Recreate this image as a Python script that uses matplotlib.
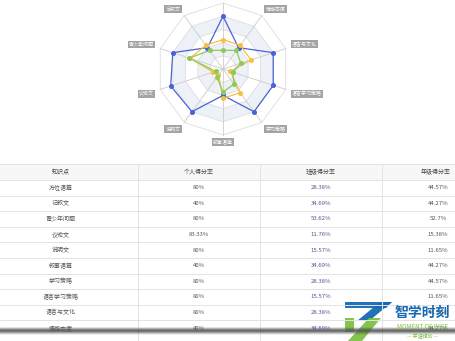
import numpy as np
import matplotlib
matplotlib.use('Agg')
import matplotlib.pyplot as plt
from matplotlib.patches import Polygon, Rectangle

plt.rcParams['font.family'] = ['Noto Sans CJK SC', 'DejaVu Sans']

# knowledge points, table rows = radar indicators (counter-clockwise from top)
names = ['方位语篇', '记叙文', '青少年问题', '议论文', '说明文',
         '叙事语篇', '学习策略', '语言学习策略', '语言与文化', '情感态度']
personal = [80, 40, 80, 83.33, 80, 40, 80, 80, 80, 40]
class_rate = [28.38, 34.69, 53.62, 11.76, 15.57, 34.69, 28.38, 15.57, 28.38, 34.69]
grade_rate = [44.57, 44.27, 52.7, 15.38, 11.65, 44.27, 44.57, 11.65, 44.57, 44.27]
headers = ['知识点', '个人得分率', '班级得分率', '年级得分率']

blue = '#4763d4'
yellow = '#f5c142'
green = '#8ccb5a'

W, H = 456, 341
fig = plt.figure(figsize=(W / 100, H / 100), dpi=100)

# ---------------- radar ----------------
cx, cy, R = 223, 69, 66
ax = fig.add_axes([(cx - 110) / W, (H - cy - 75) / H, 220 / W, 150 / H])
ax.set_xlim(-110 / R, 110 / R)
ax.set_ylim(-75 / R, 75 / R)
ax.axis('off')

n = len(names)
theta = np.pi / 2 + np.arange(n) * 2 * np.pi / n
cs, sn = np.cos(theta), np.sin(theta)

rings = [0.2, 0.4, 0.6, 0.8, 1.0]
for k in range(len(rings) - 1, -1, -1):
    r = rings[k]
    col = '#eef1f8' if k in (1, 3) else 'white'
    ax.add_patch(Polygon(np.c_[r * cs, r * sn], closed=True, facecolor=col,
                         edgecolor='#dddddd', lw=0.6, zorder=1))
for c, s in zip(cs, sn):
    ax.plot([0, c], [0, s], color='#cccccc', lw=0.6, zorder=2)

for vals, col in [(personal, blue), (grade_rate, yellow), (class_rate, green)]:
    v = np.array(vals) / 100.0
    xs = np.r_[v * cs, v[0] * cs[0]]
    ys = np.r_[v * sn, v[0] * sn[0]]
    ax.plot(xs, ys, color=col, lw=0.9, zorder=3)
    ax.plot(v * cs, v * sn, 'o', color=col, ms=2.6, zorder=4)

for name, c, s in zip(names, cs, sn):
    ha = 'left' if c > 0.05 else ('right' if c < -0.05 else 'center')
    va = 'bottom' if s > 0.05 else ('top' if s < -0.05 else 'center')
    if abs(c) < 0.05:
        gap = 1.35 if s > 0 else 1.07
    else:
        gap = 1.08
    ax.text(1.1 * c, gap * s, name, ha=ha, va=va, fontsize=3.6, color='white',
            bbox=dict(boxstyle='square,pad=0.25', fc='#a3a3a3', ec='none'),
            clip_on=False, zorder=5)

# ---------------- table ----------------
tb = fig.add_axes([0, 0, 1, 1])
tb.set_xlim(0, W)
tb.set_ylim(H, 0)
tb.axis('off')

col_edges = [-16, 138, 260, 382, 504]
col_centers = [(col_edges[i] + col_edges[i + 1]) / 2 for i in range(4)]
head_top, head_bot = 164, 180
row_h = 15.6

tb.add_patch(Rectangle((0, head_top), W, head_bot - head_top, fc='#f7f7f7', ec='none'))
tb.plot([0, W], [head_top, head_top], color='#e3e3e3', lw=0.7)
for j, h in enumerate(headers):
    tb.text(min(col_centers[j], 436), (head_top + head_bot) / 2, h, ha='center',
            va='center', fontsize=4.3, color='#444444')

for i in range(len(names)):
    y0 = head_bot + i * row_h
    tb.plot([0, W], [y0, y0], color='#e3e3e3', lw=0.7)
    yc = y0 + row_h / 2
    cells = [names[i], '%g%%' % personal[i], '%g%%' % class_rate[i], '%g%%' % grade_rate[i]]
    for j, t in enumerate(cells):
        tb.text(min(col_centers[j], 438), yc, t, ha='center', va='center', fontsize=4.3,
                color='#555555' if j != 2 else '#4a5a8a')
for x in col_edges[1:4]:
    tb.plot([x, x], [head_top, H], color='#e3e3e3', lw=0.7)

# bottom screenshot shadow
for k, a in enumerate([0.2, 0.45, 0.75, 0.85, 0.55, 0.3, 0.12]):
    tb.plot([0, W], [327.5 + k, 327.5 + k], color='#555555', alpha=a, lw=1.1)
tb.add_patch(Rectangle((0, 334), W, 7, fc='white', ec='none', alpha=0.92))

# watermark
tb.add_patch(Polygon([[345, 302], [392, 302], [386, 308], [345, 308]], closed=True,
                     fc='#1769b3', ec='none', alpha=0.95))
tb.add_patch(Polygon([[392, 302], [380, 302], [357, 321], [369, 321]], closed=True,
                     fc='#1769b3', ec='none', alpha=0.95))
tb.add_patch(Polygon([[369, 318], [381, 318], [362, 341], [348, 341]], closed=True,
                     fc='#7cc242', ec='none', alpha=0.95))
tb.add_patch(Polygon([[345, 318], [354, 318], [354, 332], [345, 332]], closed=True,
                     fc='#7cc242', ec='none', alpha=0.95))
tb.text(422, 313, '智学时刻', ha='center', va='center', fontsize=10,
        color='#1769b3', fontweight='bold')
tb.text(423, 327, 'MOMENT OF WISE', ha='center', va='center', fontsize=4.4,
        color='#7cc242')
tb.text(423, 336, '— 学涯规划 —', ha='center', va='center', fontsize=3.6,
        color='#7cc242')

fig.savefig('out.png', dpi=100)
